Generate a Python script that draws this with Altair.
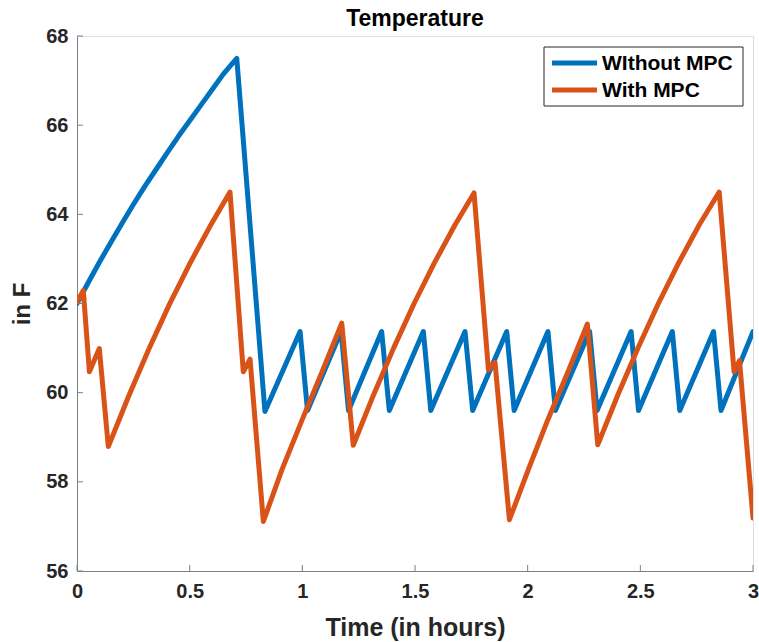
import altair as alt
import pandas as pd

series_names = ["WIthout MPC", "With MPC"]
series_colors = ["#0072BD", "#D95319"]

t_without = [0.0, 0.05, 0.1, 0.15, 0.2, 0.25, 0.3, 0.35, 0.4, 0.45, 0.5,
             0.55, 0.6, 0.65, 0.709, 0.834,
             0.99, 1.023, 1.172, 1.205, 1.352, 1.386, 1.537, 1.570,
             1.722, 1.756, 1.907, 1.940, 2.09, 2.123, 2.275, 2.308,
             2.459, 2.492, 2.642, 2.675, 2.825, 2.858, 3.0]
temp_without = [62.0, 62.47, 62.93, 63.37, 63.8, 64.22, 64.62, 65.0, 65.38,
                65.75, 66.1, 66.45, 66.8, 67.15, 67.5, 59.58,
                61.37, 59.6, 61.37, 59.6, 61.37, 59.6, 61.37, 59.6,
                61.37, 59.6, 61.37, 59.6, 61.37, 59.6, 61.37, 59.6,
                61.37, 59.6, 61.37, 59.6, 61.37, 59.6, 61.37]

t_with = [0.0, 0.028, 0.055, 0.099, 0.139, 0.229, 0.319, 0.409, 0.499,
          0.589, 0.679,
          0.738, 0.768, 0.827, 0.91, 1.0, 1.09, 1.175,
          1.226, 1.316, 1.406, 1.496, 1.586, 1.676, 1.762,
          1.826, 1.855, 1.919, 2.005, 2.09, 2.18, 2.265,
          2.311, 2.401, 2.491, 2.581, 2.671, 2.761, 2.85,
          2.916, 2.94, 3.0]
temp_with = [62.04, 62.29, 60.47, 60.99, 58.79, 59.92, 60.98, 61.97, 62.88,
             63.72, 64.5,
             60.47, 60.75, 57.11, 58.28, 59.4, 60.5, 61.56,
             58.82, 59.95, 61.01, 62.0, 62.91, 63.75, 64.48,
             60.51, 60.68, 57.15, 58.3, 59.4, 60.48, 61.54,
             58.83, 59.96, 61.02, 62.01, 62.92, 63.76, 64.5,
             60.47, 60.72, 57.19]

x_ticks = [0, 0.5, 1, 1.5, 2, 2.5, 3]
y_ticks = [56, 58, 60, 62, 64, 66, 68]

W, H = 676, 535
FONT = "Liberation Sans"
AXIS_GRAY = "#808080"
TEXT = "#262626"

df_without = pd.DataFrame({"t": t_without, "temp": temp_without})
df_with = pd.DataFrame({"t": t_with, "temp": temp_with})
df_xt = pd.DataFrame({"t": x_ticks})
df_yt = pd.DataFrame({"temp": y_ticks})

xs = alt.Scale(domain=[0, 3], nice=False, zero=False)
ys = alt.Scale(domain=[56, 68], nice=False, zero=False)

x_axis = alt.Axis(values=x_ticks, format="~g", title="Time (in hours)",
                  grid=False, ticks=False, domainColor=AXIS_GRAY, domainWidth=1,
                  labelFont=FONT, labelFontSize=20, labelFontWeight="bold",
                  labelColor=TEXT, labelPadding=10, labelFlush=False,
                  titleFont=FONT, titleFontSize=25, titleFontWeight="bold",
                  titleColor=TEXT, titlePadding=14)
y_axis = alt.Axis(values=y_ticks, title="in F",
                  grid=False, ticks=False, domainColor=AXIS_GRAY, domainWidth=1,
                  labelFont=FONT, labelFontSize=20, labelFontWeight="bold",
                  labelColor=TEXT, labelPadding=9, labelFlush=False,
                  titleFont=FONT, titleFontSize=24, titleFontWeight="bold",
                  titleColor=TEXT, titlePadding=11)

line_without = alt.Chart(df_without).mark_line(
    strokeWidth=5, color=series_colors[0], clip=True,
    strokeJoin="round", strokeCap="round"
).encode(
    x=alt.X("t:Q", scale=xs, axis=x_axis),
    y=alt.Y("temp:Q", scale=ys, axis=y_axis),
)
line_with = alt.Chart(df_with).mark_line(
    strokeWidth=5, color=series_colors[1], clip=True,
    strokeJoin="round", strokeCap="round"
).encode(
    x=alt.X("t:Q", scale=xs),
    y=alt.Y("temp:Q", scale=ys),
)

x_tick_marks = alt.Chart(df_xt).mark_rule(color=AXIS_GRAY, strokeWidth=1).encode(
    x=alt.X("t:Q", scale=xs), y=alt.value(H), y2=alt.value(H - 6)
)
y_tick_marks = alt.Chart(df_yt).mark_rule(color=AXIS_GRAY, strokeWidth=1).encode(
    y=alt.Y("temp:Q", scale=ys), x=alt.value(0), x2=alt.value(6)
)

# legend
one = pd.DataFrame({"a": [0]})
leg_box = alt.Chart(one).mark_rect(fill="white", stroke=TEXT, strokeWidth=1).encode(
    x=alt.value(467), x2=alt.value(666), y=alt.value(11), y2=alt.value(70)
)
leg_layers = [leg_box]
rows_y = [27, 54]
for name, color, ry in zip(series_names, series_colors, rows_y):
    d = pd.DataFrame({"name": [name]})
    leg_layers.append(
        alt.Chart(d).mark_rule(color=color, strokeWidth=5).encode(
            x=alt.value(475), x2=alt.value(520), y=alt.value(ry)
        )
    )
    leg_layers.append(
        alt.Chart(d).mark_text(font=FONT, fontSize=21, fontWeight="bold",
                               color="black", align="left", baseline="middle").encode(
            text="name:N", x=alt.value(525), y=alt.value(ry + 1)
        )
    )

chart = alt.layer(
    line_without, line_with, x_tick_marks, y_tick_marks, *leg_layers
).properties(
    width=W, height=H,
    autosize="none",
    padding={"left": 77, "top": 36, "right": 6, "bottom": 71},
    title=alt.TitleParams("Temperature", font=FONT, fontSize=23, fontWeight="bold",
                          color="black", anchor="middle", offset=-5),
).configure_view(strokeOpacity=0).configure(background="white")

chart.save("out.html", embed_options={"renderer": "svg", "actions": False})
